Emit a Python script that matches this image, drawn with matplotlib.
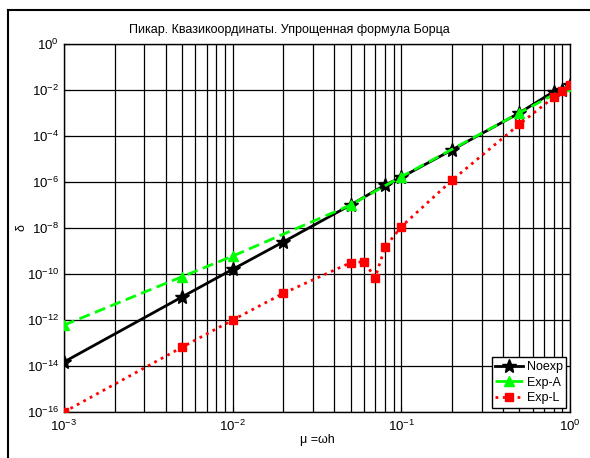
import numpy as np
import matplotlib
matplotlib.use('Agg')
import matplotlib.pyplot as plt
from matplotlib.lines import Line2D

plt.rcParams['font.family'] = ['Liberation Sans', 'DejaVu Sans']
plt.rcParams['mathtext.fontset'] = 'custom'
plt.rcParams['mathtext.rm'] = 'Liberation Sans'
plt.rcParams['mathtext.it'] = 'Liberation Sans'
plt.rcParams['mathtext.default'] = 'regular'

# data
mu_noexp = [0.001, 0.005, 0.01, 0.02, 0.05, 0.08, 0.1, 0.2, 0.5, 0.8, 0.9, 1.0]
d_noexp = [1.5e-14, 1.0e-11, 1.6e-10, 2.5e-9, 1.0e-7, 7.4e-7, 1.6e-6, 2.5e-5,
           1.0e-3, 8.5e-3, 1.0e-2, 1.6e-2]

mu_expa = [0.001, 0.005, 0.01, 0.05, 0.1, 0.5, 1.0]
d_expa = [6.0e-13, 7.6e-11, 6.0e-10, 1.0e-7, 1.7e-6, 1.0e-3, 1.5e-2]

mu_expl = [0.001, 0.005, 0.01, 0.02, 0.05, 0.06, 0.07, 0.08, 0.1, 0.2, 0.5, 0.8, 0.9, 1.0]
d_expl = [1.0e-16, 6.5e-14, 1.0e-12, 1.45e-11, 3.1e-10, 3.4e-10, 7.0e-11, 1.45e-9,
          1.15e-8, 1.2e-6, 3.2e-4, 4.8e-3, 9.0e-3, 1.6e-2]

fig = plt.figure(figsize=(5.9, 4.58), dpi=100)
ax = fig.add_axes([64/590, 1-412/458, (570-64)/590, (412-44)/458])

ax.plot(mu_noexp, d_noexp, color='black', lw=2, marker='*', ms=10,
        mfc='black', mec='black', label='Noexp', zorder=3)
ax.plot(mu_expa, d_expa, color='#00ff00', lw=2, ls='--', dashes=(4, 2),
        marker='^', ms=7, mfc='#00ff00', mec='#00ff00', label='Exp-A', zorder=4)
ax.plot(mu_expl, d_expl, color='red', lw=2, ls=':', marker='s', ms=6,
        mfc='red', mec='red', label='Exp-L', zorder=5)

ax.set_xscale('log')
ax.set_yscale('log')
ax.set_xlim(1e-3, 1)
ax.set_ylim(1e-16, 1)
ax.set_yticks([10.0**k for k in range(-16, 1, 2)])
ax.set_yticks([], minor=True)
ax.set_xticks([1e-3, 1e-2, 1e-1, 1])
ax.set_xticks([m * 10.0**k for k in range(-3, 0) for m in range(2, 10)], minor=True)
ax.set_xticklabels([], minor=True)
ax.grid(True, which='major', color='black', lw=0.9, ls='-')
ax.grid(True, which='minor', axis='x', color='black', lw=0.9, ls='-')
ax.tick_params(which='both', direction='in', labelsize=9.5, length=4)
ax.tick_params(axis='x', pad=5)

ax.set_title('Пикар. Квазикоординаты. Упрощенная формула Борца', fontsize=9,
             pad=8, x=(289-64)/506)
ax.set_xlabel('μ =ωh', fontsize=9, labelpad=0)
ax.set_ylabel('δ', fontsize=9)
ax.yaxis.set_label_coords(-0.072, 0.5)
for s in ax.spines.values():
    s.set_linewidth(1)

leg = ax.legend(loc='lower right', fontsize=9, frameon=True, fancybox=False,
                edgecolor='black', framealpha=1, borderaxespad=0.3,
                handlelength=2.2, labelspacing=0.3, borderpad=0.3, handletextpad=0.3)
leg.get_frame().set_linewidth(1)

# outer frame (left and top edges visible)
fig.add_artist(Line2D([8/590, 8/590], [0, 1-10/458], color='black', lw=1.5,
                      transform=fig.transFigure))
fig.add_artist(Line2D([8/590, 1], [1-10/458, 1-10/458], color='black', lw=1.5,
                      transform=fig.transFigure))

fig.savefig('out.png', dpi=100, facecolor='white')
